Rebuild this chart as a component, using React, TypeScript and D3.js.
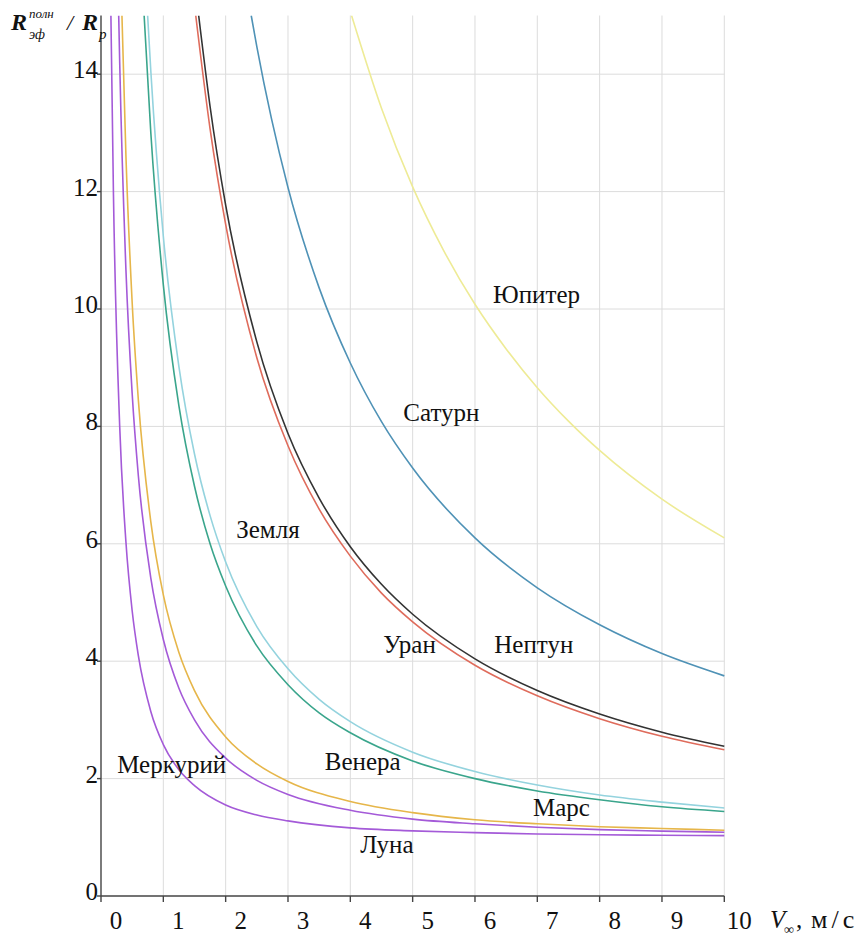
import * as d3 from "d3";

// V∞ samples and R_eff/R_p, one pair of arrays per planet
const moonV = [0.159, 0.2, 0.3, 0.4, 0.5, 0.6, 0.8, 1, 1.25, 1.5, 2, 2.5, 3, 4, 5, 6, 7, 8, 9, 10];
const moonR = [15.0, 11.94, 8.0, 6.03, 4.86, 4.09, 3.14, 2.58, 2.15, 1.88, 1.55, 1.38, 1.28, 1.16, 1.11, 1.08, 1.056, 1.043, 1.034, 1.028];

const mercuryV = [0.284, 0.3, 0.4, 0.5, 0.6, 0.8, 1, 1.25, 1.5, 2, 2.5, 3, 4, 5, 6, 7, 8, 9, 10];
const mercuryR = [15.0, 14.2, 10.67, 8.56, 7.15, 5.41, 4.37, 3.54, 3.0, 2.35, 1.97, 1.73, 1.46, 1.31, 1.23, 1.17, 1.13, 1.106, 1.087];

const marsV = [0.336, 0.4, 0.5, 0.6, 0.8, 1, 1.25, 1.5, 2, 2.5, 3, 4, 5, 6, 7, 8, 9, 10];
const marsR = [15.0, 12.61, 10.11, 8.44, 6.37, 5.13, 4.15, 3.5, 2.71, 2.25, 1.95, 1.61, 1.42, 1.3, 1.23, 1.18, 1.15, 1.12];

const venusV = [0.692, 0.8, 1, 1.25, 1.5, 1.75, 2, 2.5, 3, 3.5, 4, 5, 6, 7, 8, 9, 10];
const venusR = [15.0, 12.99, 10.41, 8.35, 6.98, 6.0, 5.28, 4.26, 3.6, 3.12, 2.78, 2.3, 2.0, 1.79, 1.64, 1.52, 1.44];

const earthV = [0.748, 0.8, 1, 1.25, 1.5, 1.75, 2, 2.5, 3, 3.5, 4, 5, 6, 7, 8, 9, 10];
const earthR = [15.0, 14.04, 11.24, 9.02, 7.53, 6.48, 5.69, 4.59, 3.87, 3.35, 2.97, 2.45, 2.12, 1.89, 1.72, 1.6, 1.5];

const uranusV = [1.52, 1.75, 2, 2.5, 3, 3.5, 4, 4.5, 5, 6, 7, 8, 9, 10];
const uranusR = [15.0, 13.07, 11.44, 9.17, 7.67, 6.59, 5.79, 5.16, 4.67, 3.93, 3.41, 3.02, 2.72, 2.49];

const neptuneV = [1.567, 1.75, 2, 2.5, 3, 3.5, 4, 4.5, 5, 6, 7, 8, 9, 10];
const neptuneR = [15.0, 13.45, 11.77, 9.44, 7.88, 6.78, 5.95, 5.31, 4.8, 4.04, 3.5, 3.1, 2.79, 2.55];

const saturnV = [2.41, 2.5, 3, 3.5, 4, 4.5, 5, 6, 7, 8, 9, 10];
const saturnR = [15.0, 14.47, 12.07, 10.36, 9.08, 8.08, 7.29, 6.1, 5.25, 4.62, 4.13, 3.75];

const jupiterV = [4.02, 4.5, 5, 5.5, 6, 6.5, 7, 7.5, 8, 9, 10];
const jupiterR = [15.0, 13.42, 12.08, 10.99, 10.08, 9.32, 8.66, 8.09, 7.59, 6.76, 6.1];

const xTicks = [0, 1, 2, 3, 4, 5, 6, 7, 8, 9, 10];
const yTicks = [0, 2, 4, 6, 8, 10, 12, 14];

const curves = [
  { name: "Луна", v: moonV, r: moonR, color: "#a45ad8" },
  { name: "Меркурий", v: mercuryV, r: mercuryR, color: "#a45ad8" },
  { name: "Марс", v: marsV, r: marsR, color: "#e6b64a" },
  { name: "Венера", v: venusV, r: venusR, color: "#3aa58c" },
  { name: "Земля", v: earthV, r: earthR, color: "#94d3de" },
  { name: "Уран", v: uranusV, r: uranusR, color: "#df6c5c" },
  { name: "Нептун", v: neptuneV, r: neptuneR, color: "#333333" },
  { name: "Сатурн", v: saturnV, r: saturnR, color: "#4f92b6" },
  { name: "Юпитер", v: jupiterV, r: jupiterR, color: "#eeeb96" },
];

// text labels, anchored at their left baseline in data units
const labelNames = ["Юпитер", "Сатурн", "Земля", "Уран", "Нептун", "Венера", "Меркурий", "Марс", "Луна"];
const labelV = [6.29, 4.85, 2.17, 4.53, 6.31, 3.59, 0.26, 6.93, 4.16];
const labelR = [10.1, 8.09, 6.1, 4.14, 4.14, 2.15, 2.1, 1.36, 0.73];

export default function App() {
  const width = 868;
  const height = 937;
  const x = d3.scaleLinear().domain([0, 10]).range([101, 724.3]);
  const y = d3.scaleLinear().domain([0, 15]).range([896, 15.5]);
  const font = '"Liberation Serif", "DejaVu Serif", serif';

  const line = d3
    .line<[number, number]>()
    .x((d) => x(d[0]))
    .y((d) => y(d[1]))
    .curve(d3.curveMonotoneX);

  return (
    <svg
      width={width}
      height={height}
      style={{ position: "absolute", left: 0, top: 0, background: "#fff", fontFamily: font }}
    >
      <defs>
        <clipPath id="plot">
          <rect x={x(0)} y={y(15)} width={x(10) - x(0) + 1} height={y(0) - y(15)} />
        </clipPath>
      </defs>

      {/* grid */}
      <g stroke="#dcdcdc" strokeWidth={1}>
        {xTicks.slice(1).map((t) => (
          <line key={t} x1={x(t)} x2={x(t)} y1={y(15)} y2={y(0)} />
        ))}
        {yTicks.slice(1).map((t) => (
          <line key={t} x1={x(0)} x2={x(10)} y1={y(t)} y2={y(t)} />
        ))}
      </g>

      {/* curves */}
      <g clipPath="url(#plot)" fill="none" strokeWidth={1.6}>
        {curves.map((c) => (
          <path
            key={c.name}
            d={line(c.v.map((v, i) => [v, c.r[i]] as [number, number])) || ""}
            stroke={c.color}
          />
        ))}
      </g>

      {/* axes */}
      <g stroke="#444" strokeWidth={1.4}>
        <line x1={x(0)} x2={x(0)} y1={y(15)} y2={y(0)} />
        <line x1={x(0)} x2={x(10)} y1={y(0)} y2={y(0)} />
        {xTicks.map((t) => (
          <line key={t} x1={x(t)} x2={x(t)} y1={y(0)} y2={y(0) + 6} />
        ))}
        {yTicks.map((t) => (
          <line key={t} x1={x(0) - 4} x2={x(0)} y1={y(t)} y2={y(t)} />
        ))}
      </g>

      <g fontSize={25} fill="#111">
        {xTicks.map((t) => (
          <text key={t} x={x(t) + 15} y={y(0) + 33} textAnchor="middle">
            {t}
          </text>
        ))}
        {yTicks.map((t) => (
          <text key={t} x={x(0) - 3} y={y(t) + 4} textAnchor="end">
            {t}
          </text>
        ))}
      </g>

      {/* planet labels */}
      <g fontSize={25} fill="#111">
        {labelNames.map((n, i) => (
          <text key={n} x={x(labelV[i])} y={y(labelR[i])}>
            {n}
          </text>
        ))}
      </g>

      {/* y title */}
      <g fill="#111" fontStyle="italic">
        <text x={11} y={30} fontSize={24} fontWeight="bold">R</text>
        <text x={29} y={18} fontSize={13}>полн</text>
        <text x={29} y={39} fontSize={14}>эф</text>
        <text x={67} y={30} fontSize={22}>/</text>
        <text x={82} y={30} fontSize={24} fontWeight="bold">R</text>
        <text x={99} y={39} fontSize={15}>р</text>
      </g>

      {/* x title */}
      <g fill="#111">
        <text x={770} y={928} fontSize={25} fontStyle="italic">V</text>
        <text x={784} y={934} fontSize={14}>∞</text>
        <text x={796} y={928} fontSize={25}>,</text>
        <text x={811} y={928} fontSize={26} letterSpacing={4}>м/с</text>
      </g>
    </svg>
  );
}
